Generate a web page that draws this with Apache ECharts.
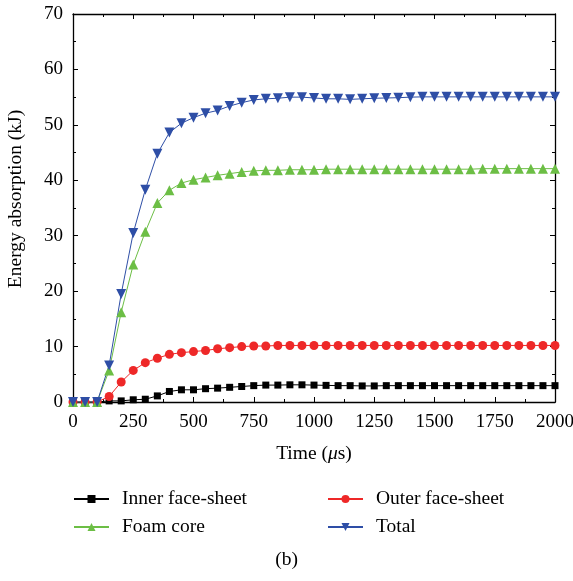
<!DOCTYPE html>
<html>
<head>
<meta charset="utf-8">
<script src="https://cdn.jsdelivr.net/npm/echarts@6/dist/echarts.min.js"></script>
<style>
  html, body { margin: 0; padding: 0; background: #fff; }
  #chart { width: 573px; height: 581px; }
</style>
</head>
<body>
<div id="chart"></div>
<script>
// Time samples (µs)
const times = [0, 50, 100, 150, 200, 250, 300, 350, 400, 450, 500, 550, 600, 650, 700, 750, 800, 850, 900, 950,
  1000, 1050, 1100, 1150, 1200, 1250, 1300, 1350, 1400, 1450, 1500, 1550, 1600, 1650, 1700, 1750, 1800, 1850, 1900, 1950, 2000];

// Energy absorption (kJ)
const innerSheet = [0, 0, 0, 0.2, 0.2, 0.4, 0.5, 1.1, 1.9, 2.2, 2.2, 2.4, 2.5, 2.65, 2.8, 2.95, 3.05, 3.05, 3.1, 3.1,
  3.05, 3.0, 2.95, 2.95, 2.9, 2.9, 2.95, 2.95, 2.95, 2.95, 2.95, 2.95, 2.95, 2.95, 2.95, 2.95, 2.95, 2.95, 2.95, 2.95, 2.95];
const outerSheet = [0, 0, 0, 1.0, 3.6, 5.7, 7.1, 7.9, 8.6, 8.9, 9.1, 9.3, 9.6, 9.8, 10.0, 10.1, 10.1, 10.2, 10.2, 10.2,
  10.2, 10.2, 10.2, 10.2, 10.2, 10.2, 10.2, 10.2, 10.2, 10.2, 10.2, 10.2, 10.2, 10.2, 10.2, 10.2, 10.2, 10.2, 10.2, 10.2, 10.2];
const foamCore = [0, 0, 0, 5.7, 16.2, 24.8, 30.7, 35.9, 38.2, 39.5, 40.1, 40.5, 40.9, 41.2, 41.5, 41.7, 41.8, 41.8, 41.9, 41.9,
  41.9, 42.0, 42.0, 42.0, 42.0, 42.0, 42.0, 42.0, 42.0, 42.0, 42.0, 42.0, 42.0, 42.0, 42.1, 42.1, 42.1, 42.1, 42.1, 42.1, 42.1];
const total = [0, 0, 0, 6.6, 19.5, 30.5, 38.3, 44.8, 48.6, 50.3, 51.3, 52.1, 52.6, 53.4, 54.0, 54.5, 54.7, 54.8, 55.0, 55.0,
  54.85, 54.7, 54.7, 54.6, 54.7, 54.8, 54.85, 54.9, 55.0, 55.05, 55.05, 55.05, 55.05, 55.05, 55.05, 55.05, 55.05, 55.05, 55.05, 55.05, 55.05];

const xTicks = [0, 250, 500, 750, 1000, 1250, 1500, 1750, 2000];
const yTicks = [0, 10, 20, 30, 40, 50, 60, 70];

const FONT = '"Liberation Serif", "DejaVu Serif", serif';
const TICK_SIZE = 19;
const TEXT_SIZE = 19.5;
const chart = echarts.init(document.getElementById('chart'), null, { renderer: 'canvas' });

function pairs(ys) { return times.map((t, i) => [t, ys[i]]); }

function frameAxis(extra) {
  return Object.assign({
    axisLine: { show: true, onZero: false, lineStyle: { color: '#000', width: 1.3 } },
    axisTick: { show: true, inside: true, length: 5, lineStyle: { color: '#000', width: 1 } },
    minorTick: { show: true, splitNumber: 2, length: 3, lineStyle: { color: '#000', width: 1 } },
    splitLine: { show: false },
    minorSplitLine: { show: false }
  }, extra);
}

function lineSeries(name, ys, color, symbol, size, rotate) {
  return {
    name: name,
    type: 'line',
    data: pairs(ys),
    symbol: symbol,
    symbolSize: size,
    symbolRotate: rotate || 0,
    showAllSymbol: true,
    lineStyle: { color: color, width: 1 },
    itemStyle: { color: color },
    z: 3,
    animation: false
  };
}

const legendText = { fontFamily: FONT, fontSize: TEXT_SIZE, color: '#000', lineHeight: 20, padding: [0, 0, 0, 8] };

chart.setOption({
  backgroundColor: '#fff',
  animation: false,
  grid: { left: 73, right: 18, top: 14, bottom: 179, containLabel: false, outerBoundsMode: 'none' },
  xAxis: [
    frameAxis({
      type: 'value', min: 0, max: 2000, interval: 250, position: 'bottom',
      name: '{n|Time (}{i|μ}{n|s)}', nameLocation: 'middle', nameGap: 42,
      nameTextStyle: { rich: {
        n: { fontFamily: FONT, fontSize: TEXT_SIZE, color: '#000' },
        i: { fontFamily: FONT, fontSize: TEXT_SIZE, color: '#000', fontStyle: 'italic' }
      } },
      axisLabel: { fontFamily: FONT, fontSize: TICK_SIZE, color: '#000', margin: 11,
        formatter: v => xTicks.includes(v) ? String(v) : '' }
    }),
    frameAxis({
      type: 'value', min: 0, max: 2000, interval: 250, position: 'top',
      axisLabel: { show: false }
    })
  ],
  yAxis: [
    frameAxis({
      type: 'value', min: 0, max: 70, interval: 10, position: 'left',
      name: 'Energy absorption (kJ)', nameLocation: 'middle', nameGap: 47,
      nameTextStyle: { fontFamily: FONT, fontSize: TEXT_SIZE, color: '#000', padding: [0, 0, 0, 18] },
      axisLabel: { fontFamily: FONT, fontSize: TICK_SIZE, color: '#000', margin: 10,
        formatter: v => yTicks.includes(v) ? String(v) : '' }
    }),
    frameAxis({
      type: 'value', min: 0, max: 70, interval: 10, position: 'right',
      axisLabel: { show: false }
    })
  ],
  legend: [
    {
      left: 73, top: 489, orient: 'vertical', itemWidth: 35, itemHeight: 10, itemGap: 8,
      padding: 0, textStyle: legendText, data: ['Inner face-sheet', 'Foam core']
    },
    {
      left: 327, top: 489, orient: 'vertical', itemWidth: 35, itemHeight: 10, itemGap: 8,
      padding: 0, textStyle: legendText, data: ['Outer face-sheet', 'Total']
    }
  ],
  graphic: [
    { type: 'text', left: 'center', top: 550,
      style: { text: '(b)', font: TEXT_SIZE + 'px ' + FONT, fill: '#000' } }
  ],
  series: [
    lineSeries('Inner face-sheet', innerSheet, '#000000', 'rect', 7),
    lineSeries('Outer face-sheet', outerSheet, '#ee2828', 'circle', 9),
    lineSeries('Foam core', foamCore, '#6cbe45', 'triangle', 10),
    lineSeries('Total', total, '#2e4ea6', 'triangle', 10, 180)
  ]
});
</script>
</body>
</html>
